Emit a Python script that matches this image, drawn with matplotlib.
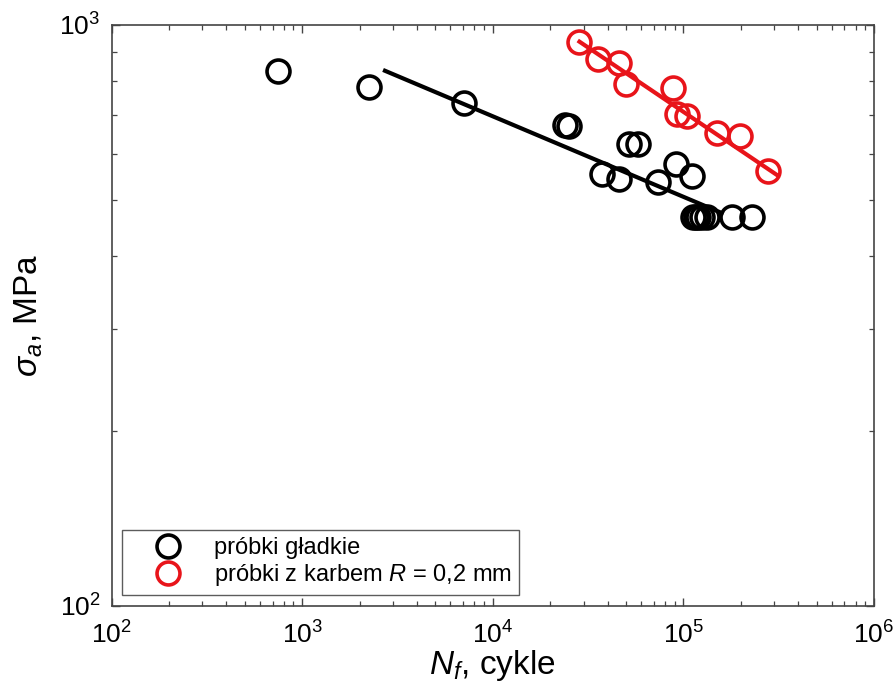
import matplotlib
matplotlib.use("Agg")
import matplotlib.pyplot as plt
from matplotlib.ticker import LogLocator, LogFormatterMathtext, NullFormatter

plt.rcParams["font.family"] = ["Liberation Sans", "DejaVu Sans"]
plt.rcParams["mathtext.fontset"] = "custom"
plt.rcParams["mathtext.rm"] = "Liberation Sans"
plt.rcParams["mathtext.it"] = "Liberation Sans:italic"
plt.rcParams["mathtext.bf"] = "Liberation Sans:bold"

# Smooth specimens: cycles to failure and stress amplitude
smooth_N = [750, 2240, 7100, 24000, 25000, 51900, 58100, 37500, 45700,
            73900, 91000, 110700, 113000, 117000, 120000, 125000, 133000,
            179500, 228500]
smooth_S = [834, 783, 733, 672, 670, 625, 625, 554, 544,
            537, 576, 549, 467, 467, 467, 467, 467,
            467, 467]

# Notched specimens (R = 0.2 mm)
notched_N = [28500, 35600, 46000, 50000, 88600, 92300, 104200, 149700,
             198400, 278000]
notched_S = [936, 873, 861, 791, 778, 703, 697, 651, 645, 561]

# Fitted lines (end points)
smooth_fit_N = [2720, 159000]
smooth_fit_S = [834, 474.5]
notched_fit_N = [28500, 309000]
notched_fit_S = [936, 552]

red = "#e8141a"

fig = plt.figure(figsize=(8.93, 7.0), dpi=100)
ax = fig.add_axes([0.1249, 0.1347, 0.8538, 0.8296])

ax.plot(smooth_fit_N, smooth_fit_S, color="black", lw=3.0, zorder=2)
ax.plot(notched_fit_N, notched_fit_S, color=red, lw=3.0, zorder=2)

ax.plot(smooth_N, smooth_S, linestyle="none", marker="o", markersize=16.5,
        markerfacecolor="none", markeredgecolor="black", markeredgewidth=2.6,
        label="próbki gładkie", zorder=3)
ax.plot(notched_N, notched_S, linestyle="none", marker="o", markersize=16.5,
        markerfacecolor="none", markeredgecolor=red, markeredgewidth=2.6,
        label=r"próbki z karbem $R$ = $\mathit{0{,}2}$ mm", zorder=3)

ax.set_xscale("log")
ax.set_yscale("log")
ax.set_xlim(1e2, 1e6)
ax.set_ylim(1e2, 1e3)

ax.xaxis.set_major_locator(LogLocator(base=10, numticks=10))
ax.xaxis.set_minor_locator(LogLocator(base=10, subs=range(2, 10), numticks=20))
ax.yaxis.set_major_locator(LogLocator(base=10, numticks=10))
ax.yaxis.set_minor_locator(LogLocator(base=10, subs=range(2, 10), numticks=20))
ax.xaxis.set_major_formatter(LogFormatterMathtext())
ax.yaxis.set_major_formatter(LogFormatterMathtext())
ax.xaxis.set_minor_formatter(NullFormatter())
ax.yaxis.set_minor_formatter(NullFormatter())

axis_color = "#444444"
for sp in ax.spines.values():
    sp.set_color(axis_color)
    sp.set_linewidth(1.2)
ax.tick_params(which="both", direction="in", top=True, right=True,
               color=axis_color, labelsize=19)
ax.tick_params(axis="x", pad=11)
ax.tick_params(axis="y", pad=8)
ax.tick_params(which="major", length=6, width=1.0)
ax.tick_params(which="minor", length=3.5, width=0.9)

ax.set_xlabel(r"$N_f$, cykle", fontsize=24, labelpad=0)
ax.set_ylabel(r"$\sigma_a$, MPa", fontsize=24, labelpad=10)

leg = ax.legend(loc="lower left", fontsize=17, frameon=True, fancybox=False,
                edgecolor="#333333", borderaxespad=0.45, handletextpad=0.3,
                borderpad=0.3, labelspacing=0.12, handlelength=3.3)
leg.get_frame().set_linewidth(1.0)

fig.savefig("out.png", dpi=100)
